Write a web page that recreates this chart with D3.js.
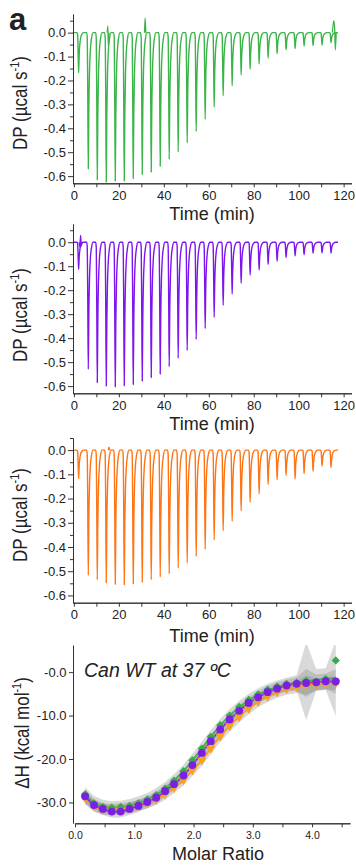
<!DOCTYPE html>
<html>
<head>
<meta charset="utf-8">
<script src="https://cdn.jsdelivr.net/npm/d3@7"></script>
<style>
  body { margin: 0; background: #fff; }
  svg { display: block; }
  text { font-family: Arial, "Liberation Sans", sans-serif; fill: #222; }
</style>
</head>
<body>
<div id="chart"></div>
<script>
// ---- thermograms: injection times (min) and peak minima (ucal/s) ----
const smallInjection = 1.7;
const injectionTimes = [6, 10, 14, 18, 22, 26, 30, 34, 38, 42, 46, 50, 54, 58, 62, 66, 70,
  74, 78, 82, 86, 90, 94, 98, 102, 106, 110, 114];
const traceEnd = 117.5;

// first value = small first injection
const peaksGreen = [-0.168, -0.569, -0.615, -0.625, -0.62, -0.62, -0.61, -0.593, -0.583, -0.559,
  -0.53, -0.499, -0.461, -0.413, -0.362, -0.312, -0.264, -0.222, -0.177, -0.153, -0.131,
  -0.106, -0.087, -0.072, -0.066, -0.056, -0.054, -0.052, -0.042];
const peaksPurple = [-0.113, -0.53, -0.585, -0.6, -0.603, -0.599, -0.593, -0.579, -0.564, -0.55,
  -0.519, -0.484, -0.451, -0.405, -0.36, -0.313, -0.263, -0.216, -0.171, -0.137, -0.116,
  -0.092, -0.078, -0.064, -0.057, -0.052, -0.046, -0.044, -0.046];
const peaksOrange = [-0.117, -0.517, -0.535, -0.548, -0.554, -0.556, -0.552, -0.545, -0.535, -0.524,
  -0.51, -0.487, -0.466, -0.439, -0.41, -0.37, -0.333, -0.294, -0.251, -0.215, -0.18,
  -0.142, -0.122, -0.105, -0.119, -0.097, -0.087, -0.066, -0.072];

// shape of one injection peak: [minutes after injection, fraction of depth]
const peakProfile = [[-0.3, 0], [-0.05, 0.04], [0.15, 0.4], [0.4, 1], [0.65, 0.55], [0.95, 0.28],
  [1.35, 0.12], [1.85, 0.04], [2.5, 0]];

// baseline glitches seen in the raw traces
const glitchesGreen = [
  [[14.8, 0], [15.1, 0.028], [15.3, -0.055], [15.6, 0]],
  [[31.4, 0], [31.7, 0.062], [32.0, 0]],
  [[115.0, 0], [115.6, 0.05], [116.0, 0.02], [116.3, -0.072], [116.7, 0]]
];
const glitchesPurple = [
  [[2.4, 0], [2.6, -0.02], [3.0, 0.028], [3.3, -0.015], [3.6, 0]]
];
const glitchesOrange = [
  [[15.3, 0], [15.6, 0.012], [15.9, 0]]
];

const dpTicks = [0, -0.1, -0.2, -0.3, -0.4, -0.5, -0.6];
const dpMinorTicks = [0.05, -0.05, -0.15, -0.25, -0.35, -0.45, -0.55];
const timeTicks = [0, 20, 40, 60, 80, 100, 120];
const timeMinorTicks = [10, 30, 50, 70, 90, 110];

// ---- isotherm ----
const ratio = [0.17, 0.32, 0.47, 0.62, 0.77, 0.92, 1.07, 1.22, 1.37, 1.52, 1.67, 1.83, 1.98, 2.14,
  2.29, 2.45, 2.61, 2.77, 2.93, 3.09, 3.25, 3.41, 3.57, 3.74, 3.90, 4.07, 4.23, 4.40];
const dhGreen = [-28.1, -30.2, -31.0, -31.2, -31.0, -30.8, -30.2, -29.3, -28.3, -26.8, -25.0, -22.8,
  -20.3, -17.6, -14.9, -12.2, -10.0, -8.0, -6.4, -5.1, -4.0, -3.3, -2.7, -2.4, -2.0, -2.2, -1.6, 2.7];
const dhPurple = [-28.6, -30.6, -31.5, -32.1, -32.1, -31.5, -30.8, -29.9, -28.9, -27.4, -25.8, -23.8,
  -21.4, -18.6, -15.9, -13.2, -10.9, -8.9, -7.1, -5.8, -4.6, -3.8, -3.1, -2.7, -2.5, -2.35, -2.1, -2.15];
const dhOrange = [-29.0, -30.8, -31.6, -31.6, -31.5, -31.2, -30.7, -30.1, -29.3, -28.1, -26.6, -24.8,
  -22.6, -20.3, -17.6, -14.8, -12.4, -10.3, -8.4, -6.8, -5.6, -4.6, -3.9, -3.4, -3.0, -2.8, -2.6, -2.5];
const fitGreen = [-28.3, -30.0, -30.9, -31.2, -31.1, -30.7, -30.1, -29.3, -28.2, -26.8, -25.0, -22.8,
  -20.3, -17.6, -14.9, -12.3, -10.0, -8.1, -6.5, -5.2, -4.2, -3.4, -2.8, -2.4, -2.1, -1.8, -1.6, -1.4];
// confidence band half-widths (kcal/mol)
const bandGreen = [1.8, 1.5, 1.5, 1.5, 1.5, 1.5, 1.5, 1.5, 1.5, 1.5, 1.5, 1.5, 1.5, 1.5,
  1.5, 1.5, 1.5, 1.5, 1.5, 1.5, 1.5, 1.5, 1.5, 1.7, 9.0, 2.5, 2.5, 8.7];
const bandPurple = [1.6, 1.4, 1.4, 1.4, 1.4, 1.4, 1.4, 1.4, 1.4, 1.4, 1.4, 1.4, 1.4, 1.4,
  1.4, 1.4, 1.4, 1.4, 1.4, 1.4, 1.4, 1.4, 1.4, 1.5, 3.2, 1.8, 1.8, 2.8];
const bandOrange = [1.5, 1.3, 1.3, 1.3, 1.3, 1.3, 1.3, 1.3, 1.3, 1.3, 1.3, 1.3, 1.3, 1.3,
  1.3, 1.3, 1.3, 1.3, 1.3, 1.3, 1.3, 1.3, 1.3, 1.4, 2.2, 1.4, 1.4, 1.6];

const dhTicks = [0, -10, -20, -30];
const dhTickLabels = ['-0.0', '-10.0', '-20.0', '-30.0'];
const ratioTicks = [0, 1, 2, 3, 4];
const ratioMinorTicks = [0.5, 1.5, 2.5, 3.5, 4.5];

const W = 356, H = 865;
const svg = d3.select('#chart').append('svg')
  .attr('width', W)
  .attr('height', H);

const axisColor = '#333';
function styleAxis(g) {
  g.selectAll('path, line').attr('stroke', axisColor).attr('stroke-width', 1);
  g.selectAll('text').attr('fill', '#222').style('font-family', 'Arial, "Liberation Sans", sans-serif');
}

// panel label
svg.append('text')
  .attr('x', 9)
  .attr('y', 30)
  .style('font-size', '31px')
  .style('font-weight', 'bold')
  .attr('fill', '#000')
  .text('a');

// ---- the three thermograms ----
const xTime = d3.scaleLinear().domain([-0.4, 123.5]).range([73, 351.5]);

const panels = [
  { peaks: peaksGreen, glitches: glitchesGreen, color: '#3bb54a', top: 14, bottom: 183.3, ymax: 0.078, labelY: 103, titleY: 220 },
  { peaks: peaksPurple, glitches: glitchesPurple, color: '#7d16ee', top: 224, bottom: 393.3, ymax: 0.076, labelY: 315, titleY: 430 },
  { peaks: peaksOrange, glitches: glitchesOrange, color: '#ff7414', top: 438, bottom: 602.7, ymax: 0.05, labelY: 515, titleY: 642 }
];

panels.forEach(p => {
  const y = d3.scaleLinear().domain([-0.63, p.ymax]).range([p.bottom, p.top]);
  const g = svg.append('g');

  // build the raw trace from the peaks
  const times = [smallInjection].concat(injectionTimes);
  const pts = [[0, 0]];
  times.forEach((t, i) => {
    peakProfile.forEach(([dt, f]) => pts.push([t + dt, f * p.peaks[i]]));
  });
  pts.push([traceEnd, 0]);

  const line = d3.line()
    .x(d => xTime(d[0]))
    .y(d => y(d[1]))
    .curve(d3.curveMonotoneX);

  g.append('path')
    .datum(pts)
    .attr('fill', 'none')
    .attr('stroke', p.color)
    .attr('stroke-width', 1.4)
    .attr('stroke-linejoin', 'round')
    .attr('d', line);

  g.selectAll('.glitch')
    .data(p.glitches)
    .join('path')
    .attr('class', 'glitch')
    .attr('fill', 'none')
    .attr('stroke', p.color)
    .attr('stroke-width', 1.3)
    .attr('d', d3.line().x(d => xTime(d[0])).y(d => y(d[1])).curve(d3.curveMonotoneX));

  // y axis: minor then major
  g.append('g')
    .attr('transform', `translate(${xTime.range()[0]},0)`)
    .call(d3.axisLeft(y).tickValues(dpMinorTicks).tickSize(3).tickSizeOuter(0).tickFormat(''))
    .call(styleAxis);
  g.append('g')
    .attr('transform', `translate(${xTime.range()[0]},0)`)
    .call(d3.axisLeft(y).tickValues(dpTicks).tickSize(5).tickPadding(2).tickSizeOuter(0)
      .tickFormat(v => v.toFixed(1)))
    .call(styleAxis)
    .call(a => a.selectAll('text').style('font-size', '13px'));

  // x axis
  g.append('g')
    .attr('transform', `translate(0,${p.bottom})`)
    .call(d3.axisBottom(xTime).tickValues(timeMinorTicks).tickSize(4).tickSizeOuter(0).tickFormat(''))
    .call(styleAxis);
  g.append('g')
    .attr('transform', `translate(0,${p.bottom})`)
    .call(d3.axisBottom(xTime).tickValues(timeTicks).tickSize(4).tickPadding(3.5).tickSizeOuter(0)
      .tickFormat(d3.format('d')))
    .call(styleAxis)
    .call(a => a.selectAll('text').style('font-size', '13px'));

  // axis titles
  g.append('text')
    .attr('x', 212)
    .attr('y', p.titleY)
    .attr('text-anchor', 'middle')
    .style('font-size', '18px')
    .text('Time (min)');

  const yl = g.append('text')
    .attr('transform', `translate(27,${p.labelY}) rotate(-90) scale(1,1.2)`)
    .attr('text-anchor', 'middle')
    .style('font-size', '17px');
  yl.append('tspan').text('DP (µcal s');
  yl.append('tspan').attr('dy', -7).style('font-size', '11px').text('-1');
  yl.append('tspan').attr('dy', 7).text(')');
});

// ---- isotherm ----
const xR = d3.scaleLinear().domain([0, 4.64]).range([75, 350]);
const yH = d3.scaleLinear().domain([-34.8, 6.25]).range([823.3, 645]);

const iso = svg.append('g');
iso.append('clipPath').attr('id', 'isoClip')
  .append('rect').attr('x', 74).attr('y', 645).attr('width', 277).attr('height', 178);

const series = [
  { pts: dhOrange, fit: dhOrange, band: bandOrange, color: '#f7a11d', line: '#ff9320' },
  { pts: dhGreen, fit: fitGreen, band: bandGreen, color: '#3ca84a', line: '#3cb44b' },
  { pts: dhPurple, fit: dhPurple, band: bandPurple, color: '#7a1fe3', line: '#8b2be6' }
];

const bands = iso.append('g').attr('clip-path', 'url(#isoClip)');
series.forEach(s => {
  const area = d3.area()
    .x((d, i) => xR(ratio[i]))
    .y0((d, i) => yH(s.fit[i] - s.band[i]))
    .y1((d, i) => yH(s.fit[i] + s.band[i]));
  bands.append('path')
    .datum(s.fit)
    .attr('fill', '#808080')
    .attr('opacity', 0.3)
    .attr('d', area);
});

series.forEach(s => {
  iso.append('path')
    .datum(s.fit)
    .attr('fill', 'none')
    .attr('stroke', s.line)
    .attr('stroke-width', 1.8)
    .attr('d', d3.line().x((d, i) => xR(ratio[i])).y(d => yH(d)).curve(d3.curveMonotoneX));
});

// markers
iso.append('g').selectAll('path')
  .data(dhOrange)
  .join('path')
  .attr('transform', (d, i) => `translate(${xR(ratio[i])},${yH(d)}) rotate(180)`)
  .attr('d', d3.symbol(d3.symbolTriangle, 36))
  .attr('fill', '#f7a11d');

iso.append('g').selectAll('path')
  .data(dhGreen)
  .join('path')
  .attr('transform', (d, i) => `translate(${xR(ratio[i])},${yH(d)}) rotate(45)`)
  .attr('d', d3.symbol(d3.symbolSquare, 34))
  .attr('fill', '#3ca84a');

iso.append('g').selectAll('circle')
  .data(dhPurple)
  .join('circle')
  .attr('cx', (d, i) => xR(ratio[i]))
  .attr('cy', d => yH(d))
  .attr('r', 3.9)
  .attr('fill', '#7a1fe3');

// axes
iso.append('g')
  .attr('transform', 'translate(73,0)')
  .call(d3.axisLeft(yH).tickValues(dhTicks).tickSize(4).tickPadding(2.5).tickSizeOuter(0)
    .tickFormat((d, i) => dhTickLabels[i]))
  .call(styleAxis)
  .call(a => a.selectAll('text').style('font-size', '13px'));

iso.append('g')
  .attr('transform', 'translate(0,823.3)')
  .call(d3.axisBottom(xR).tickValues(ratioMinorTicks).tickSize(4).tickSizeOuter(0).tickFormat(''))
  .call(styleAxis);
iso.append('g')
  .attr('transform', 'translate(0,823.3)')
  .call(d3.axisBottom(xR).tickValues(ratioTicks).tickSize(4).tickPadding(4.5).tickSizeOuter(0)
    .tickFormat(d3.format('.1f')))
  .call(styleAxis)
  .call(a => a.selectAll('text').style('font-size', '10.5px'));

iso.append('text')
  .attr('x', 84)
  .attr('y', 677)
  .style('font-size', '19.5px')
  .style('font-style', 'italic')
  .text('Can WT at 37 ºC');

iso.append('text')
  .attr('x', 218)
  .attr('y', 860)
  .attr('text-anchor', 'middle')
  .style('font-size', '18px')
  .text('Molar Ratio');

const hl = iso.append('text')
  .attr('transform', 'translate(29,733) rotate(-90) scale(1,1.2)')
  .attr('text-anchor', 'middle')
  .style('font-size', '17px');
hl.append('tspan').text('ΔH (kcal mol');
hl.append('tspan').attr('dy', -7).style('font-size', '11px').text('-1');
hl.append('tspan').attr('dy', 7).text(')');
</script>
</body>
</html>
